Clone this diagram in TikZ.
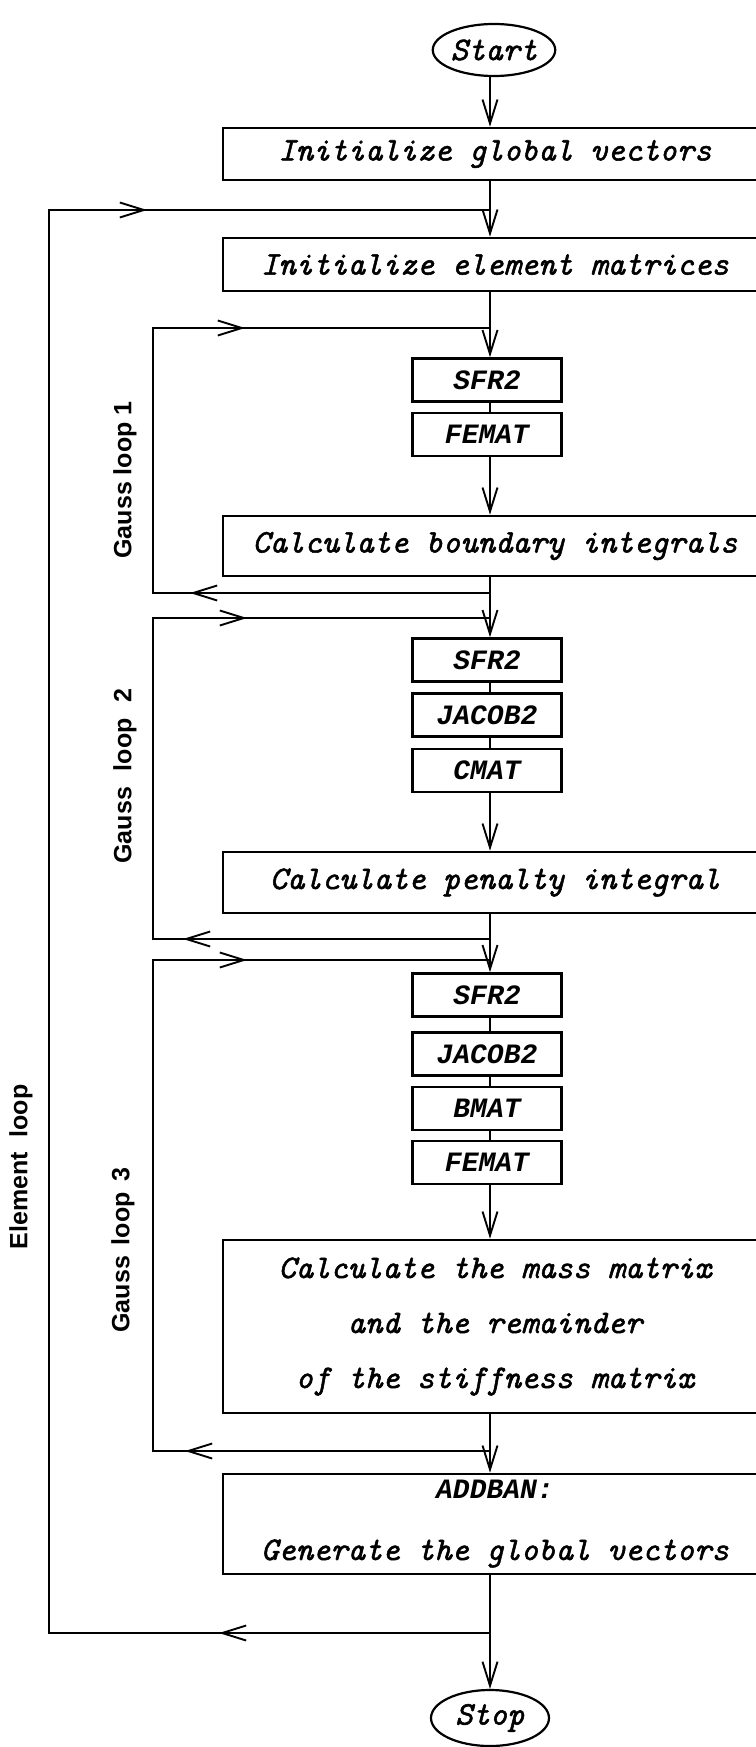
\documentclass[tikz,border=0pt]{standalone}
\usepackage{fontspec}
\usetikzlibrary{arrows.meta,shapes.geometric}
\newfontfamily\bmonofam{Liberation Mono}
\newfontfamily\lsansfam{Liberation Sans}
\newfontfamily\ttheavy{lmmono10-italic.otf}[FakeBold=1.6]
\newcommand\boxtxt{\ttheavy\fontsize{33}{55}\selectfont}
\newcommand\subtxt{\bmonofam\bfseries\itshape\fontsize{28}{34}\selectfont}
\newcommand\labtxt{\lsansfam\bfseries\fontsize{25}{30}\selectfont}
\tikzset{
  bigbox/.style={draw, line width=2.6pt, minimum width=544pt, inner sep=0pt, font=\boxtxt},
  smallbox/.style={draw, line width=2.6pt, minimum width=149pt, minimum height=43pt, inner sep=0pt, font=\subtxt},
  term/.style={draw, ellipse, line width=2.2pt, minimum width=116pt, minimum height=52pt, inner sep=0pt, font=\boxtxt},
  vline/.style={line width=1.7pt},
  loopline/.style={line width=2.4pt, line join=miter},
  tip/.style={-{Straight Barb[length=24pt,width=15pt,line width=1.9pt]}},
  looplabel/.style={rotate=90, font=\labtxt, inner sep=0pt},
}
\begin{document}
\begin{tikzpicture}[x=1pt,y=-1pt]
\useasboundingbox (0,0) rectangle (755,1747);
\fill[white] (0,0) rectangle (755,1747);

% nodes
\node[term] (start) at (494,50) {Start};
\node[bigbox, minimum height=52pt] (box1) at (495,154) {Initialize global vectors};
\node[bigbox, minimum height=53pt] (box2) at (495,264.5) {Initialize element matrices};
\node[smallbox] (sfra) at (487,380) {SFR2};
\node[smallbox] (fema) at (487,434.5) {FEMAT};
\node[bigbox, minimum height=60pt] (box3) at (495,546) {Calculate boundary integrals};
\node[smallbox] (sfrb) at (487,660) {SFR2};
\node[smallbox] (jacb) at (487,715) {JACOB2};
\node[smallbox] (cmat) at (487,770.5) {CMAT};
\node[bigbox, minimum height=61pt] (pen) at (495,882.5) {Calculate penalty integral};
\node[smallbox] (sfrc) at (487,995) {SFR2};
\node[smallbox] (jacc) at (487,1054) {JACOB2};
\node[smallbox] (bmat) at (487,1108.5) {BMAT};
\node[smallbox] (femc) at (487,1162.5) {FEMAT};
\node[bigbox, minimum height=173pt, align=center] (mass) at (495,1326.5)
  {Calculate the mass matrix\\and the remainder\\of the stiffness matrix};
\node[bigbox, minimum height=100pt, align=center] (add) at (495,1524)
  {{\subtxt ADDBAN:}\\[6pt]Generate the global vectors};
\node[term, minimum height=56pt, minimum width=118pt] (stop) at (490,1718) {Stop};

% junctions on the main line
\coordinate (elT) at (490,210);
\coordinate (g1T) at (490,328);
\coordinate (g1B) at (490,593);
\coordinate (g2T) at (490,618);
\coordinate (g2B) at (490,939);
\coordinate (g3T) at (490,960);
\coordinate (g3B) at (490,1451);
\coordinate (elB) at (490,1633);
% loop corners
\coordinate (elTL) at (49,210);
\coordinate (elBL) at (49,1633);
\coordinate (g1TL) at (153,328);
\coordinate (g1BL) at (153,593);
\coordinate (g2TL) at (153,618);
\coordinate (g2BL) at (153,939);
\coordinate (g3TL) at (153,960);
\coordinate (g3BL) at (153,1451);
% arrow tips on loop lines
\coordinate (elTa) at (147,210);
\coordinate (elBa) at (219,1633);
\coordinate (g1Ta) at (245,328);
\coordinate (g1Ba) at (190,593);
\coordinate (g2Ta) at (247,618);
\coordinate (g2Ba) at (183,939);
\coordinate (g3Ta) at (247,960);
\coordinate (g3Ba) at (185,1451);

% main line
\draw[vline,tip] (start.south -| elT) -- (elT |- box1.north);
\draw[vline,tip] (elT |- box1.south) -- (elT |- box2.north);
\draw[vline,tip] (elT |- box2.south) -- (g1T |- sfra.north);
\draw[vline] (g1T |- sfra.south) -- (g1T |- fema.north);
\draw[vline,tip] (g1T |- fema.south) -- (g1T |- box3.north);
\draw[vline,tip] (g1B |- box3.south) -- (g1B |- sfrb.north);
\draw[vline] (g2T |- sfrb.south) -- (g2T |- jacb.north);
\draw[vline] (g2T |- jacb.south) -- (g2T |- cmat.north);
\draw[vline,tip] (g2T |- cmat.south) -- (g2T |- pen.north);
\draw[vline,tip] (g2B |- pen.south) -- (g3T |- sfrc.north);
\draw[vline] (g3T |- sfrc.south) -- (g3T |- jacc.north);
\draw[vline] (g3T |- jacc.south) -- (g3T |- bmat.north);
\draw[vline] (g3T |- bmat.south) -- (g3T |- femc.north);
\draw[vline,tip] (g3T |- femc.south) -- (g3T |- mass.north);
\draw[vline,tip] (g3B |- mass.south) -- (g3B |- add.north);
\draw[vline,tip] (elB |- add.south) -- (stop.north);

% loops
\draw[loopline] (elB) -- (elBL) -- (elTL) -- (elT);
\draw[loopline,tip] (elTL) -- (elTa);
\draw[loopline,tip] (elB) -- (elBa);
\draw[loopline] (g1B) -- (g1BL) -- (g1TL) -- (g1T);
\draw[loopline,tip] (g1TL) -- (g1Ta);
\draw[loopline,tip] (g1B) -- (g1Ba);
\draw[loopline] (g2B) -- (g2BL) -- (g2TL) -- (g2T);
\draw[loopline,tip] (g2TL) -- (g2Ta);
\draw[loopline,tip] (g2B) -- (g2Ba);
\draw[loopline] (g3B) -- (g3BL) -- (g3TL) -- (g3T);
\draw[loopline,tip] (g3TL) -- (g3Ta);
\draw[loopline,tip] (g3B) -- (g3Ba);

% loop labels
\node[looplabel] (ell) at (21,1167) {Element\hspace{8pt} loop};
\node[looplabel] (gl1) at (125,480) {Gauss loop 1};
\node[looplabel] (gl2) at (125,776) {Gauss\hspace{9pt} loop\hspace{9pt} 2};
\node[looplabel] (gl3) at (123,1250) {Gauss\hspace{4pt} loop\hspace{4pt} 3};
\end{tikzpicture}
\end{document}
